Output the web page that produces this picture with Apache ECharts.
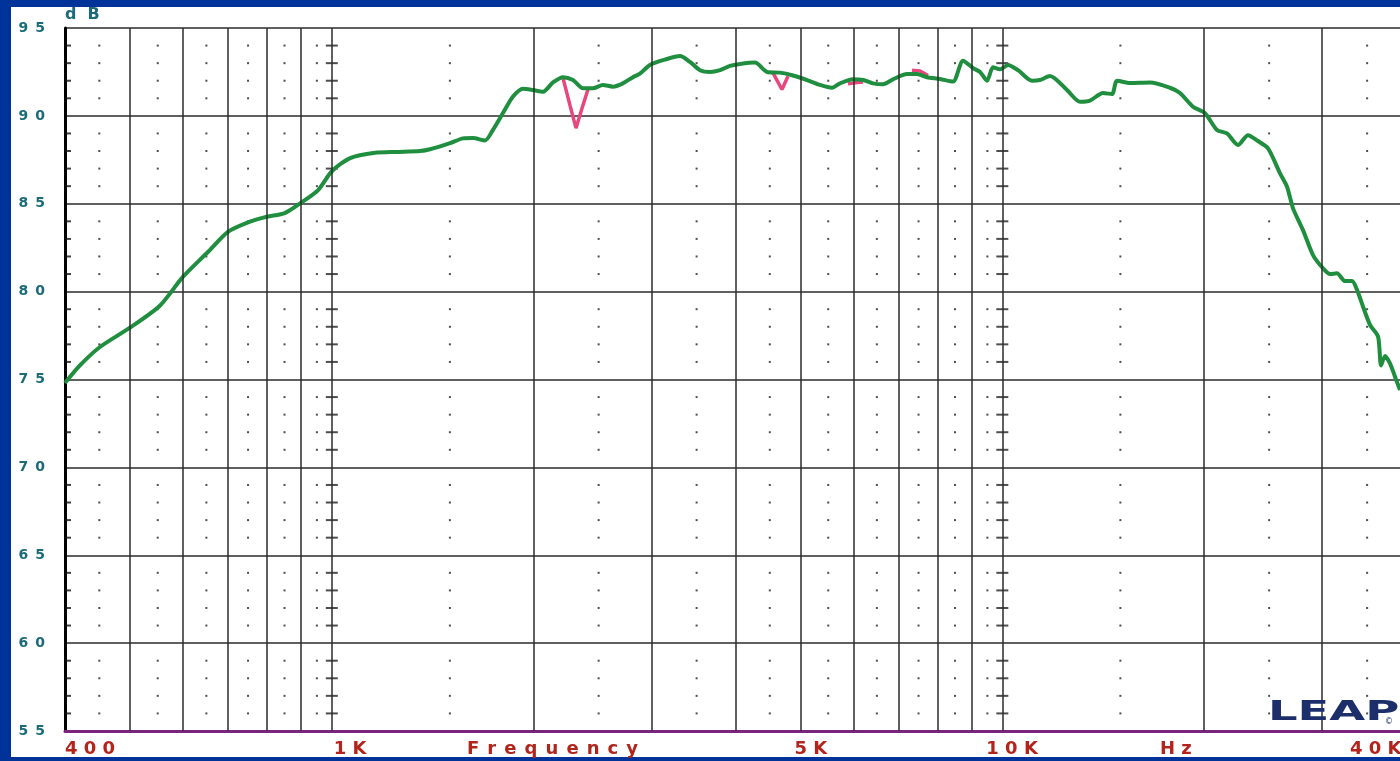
<!DOCTYPE html>
<html>
<head>
<meta charset="utf-8">
<script src="https://cdn.jsdelivr.net/npm/echarts@6/dist/echarts.min.js"></script>
<style>
  html, body { margin: 0; padding: 0; background: #003399; overflow: hidden; width: 1400px; height: 761px; }
  #paper { position: absolute; left: 11px; top: 7px; width: 1389px; height: 750px; background: #ffffff; }
  /* drawing surface runs a few pixels past the right edge so the 40K line falls just outside the view */
  #chart { position: absolute; left: 0; top: 0; width: 1410px; height: 761px; }
</style>
</head>
<body>
<div id="paper"></div>
<div id="chart"></div>
<script>
// Frequency response (Hz / dB SPL)
const freq = [400, 421, 451, 500, 554, 600, 654, 700, 755, 800, 851, 900, 954, 1000,
  1065, 1160, 1255, 1354, 1401, 1501, 1569, 1624, 1692, 1739, 1800, 1863, 1928, 1996, 2065,
  2137, 2212, 2289, 2369, 2452, 2537, 2626, 2717, 2812, 2881, 2982, 3139, 3306, 3421, 3541,
  3665, 3793, 3925, 4062, 4277, 4457, 4660, 4873, 5114, 5346, 5572, 5727, 5988, 6198, 6414,
  6638, 6870, 7209, 7461, 7722, 8074, 8442, 8738, 9042, 9263, 9488, 9685, 9921, 10197, 10553,
  11072, 11380, 11778, 12488, 13058, 13514, 14131, 14574, 14828, 15505, 16609, 17785, 18407, 19248, 20058,
  20902, 21632, 22465, 23252, 23981, 24904, 25953, 26584, 27138, 28085, 29065, 30080, 30814, 31564, 32442,
  33233, 33810, 34516, 35358, 36341, 36716, 37224, 37860, 38519, 39187];
const spl = [74.8, 75.8, 76.85, 77.95, 79.2, 80.85, 82.27, 83.4, 83.98, 84.26, 84.47, 85.06, 85.78, 86.85,
  87.6, 87.9, 87.95, 88.0, 88.1, 88.45, 88.72, 88.74, 88.6, 89.2, 90.16, 91.1, 91.55, 91.47, 91.37,
  91.9, 92.2, 92.04, 91.57, 91.57, 91.76, 91.66, 91.85, 92.2, 92.4, 92.9, 93.2, 93.4, 93.07, 92.6,
  92.5, 92.6, 92.84, 92.95, 93.03, 92.5, 92.46, 92.3, 92.04, 91.76, 91.6, 91.85, 92.08, 92.04, 91.85,
  91.8, 92.08, 92.38, 92.38, 92.2, 92.1, 91.95, 93.14, 92.72, 92.5, 92.0, 92.76, 92.65, 92.9, 92.6,
  92.0, 92.04, 92.27, 91.47, 90.8, 90.87, 91.3, 91.24, 92.0, 91.87, 91.9, 91.6, 91.3, 90.52, 90.15,
  89.2, 89.0, 88.34, 88.9, 88.6, 88.15, 86.73, 85.97, 84.74, 83.5, 82.08, 81.33, 81.0, 81.04, 80.6,
  80.6, 80.1, 79.14, 78.1, 77.44, 75.8, 76.34, 75.92, 75.16, 74.4];

// Second trace, only where it departs from the first (segments split by null)
const altFreq = [2212, 2266, 2313, 2360, 2410, null, 4549, 4692, 4790, null, 5886, 6030, 6198, null, 7334, 7540, 7748];
const altSpl  = [92.15, 90.6, 89.3, 90.4, 91.5, null, 92.45, 91.5, 92.25, null, 91.82, 91.88, 91.92, null, 92.6, 92.55, 92.3];

// Grid decoration
const majorFreqLines = [500, 600, 700, 800, 900, 1000, 2000, 3000, 4000, 5000, 6000, 7000, 8000, 9000,
  10000, 20000, 30000, 40000];
const minorFreqDots = [450, 550, 650, 750, 850, 950, 1500, 2500, 3500, 4500, 5500, 6500, 7500, 8500, 9500,
  15000, 25000, 35000];
const crossFreqs = [1000, 10000];
const xLabelValues = [400, 1000, 5000, 10000, 40000];
const xLabelTexts = ['400', '1K', '5K', '10K', '40K'];

const dbSteps = [];
for (let d = 56; d < 95; d++) if (d % 5 !== 0) dbSteps.push(d);

const spaced = (s, gap) => s.split('').join(gap);

const mainData = freq.map((f, i) => [f, spl[i]]);

const altSeries = [];
let seg = [];
altFreq.forEach((f, i) => {
  if (f === null) { if (seg.length) altSeries.push(seg); seg = []; }
  else seg.push([f, altSpl[i]]);
});
if (seg.length) altSeries.push(seg);

const dotData = [];
minorFreqDots.forEach(f => dbSteps.forEach(d => dotData.push([f, d])));
const crossData = [];
crossFreqs.forEach(f => dbSteps.forEach(d => crossData.push([f, d])));
const leftTickData = dbSteps.map(d => [400, d]);

const GRID = '#2b2b2b';
const FONT = 'DejaVu Sans';

const option = {
  backgroundColor: 'transparent',
  animation: false,
  grid: { left: 65, right: 4, top: 28, bottom: 30, containLabel: false, outerBoundsMode: 'none' },
  xAxis: {
    type: 'log', logBase: 10, min: 400, max: 40000,
    axisLine: { show: true, onZero: false, lineStyle: { color: '#7a247e', width: 3 } },
    axisTick: { show: false },
    axisLabel: { show: false },
    splitLine: { show: false },
    minorSplitLine: { show: false }
  },
  yAxis: {
    type: 'value', min: 55, max: 95, interval: 5,
    axisLine: { show: true, lineStyle: { color: '#000000', width: 3 } },
    axisTick: { show: false },
    axisLabel: {
      margin: 20, color: '#1d6b7a', fontFamily: FONT, fontWeight: 'bold', fontSize: 14,
      formatter: v => spaced(String(v), '\u2002')
    },
    splitLine: { show: true, lineStyle: { color: GRID, width: 1.5 } }
  },
  series: [
    {
      // carrier for the vertical frequency grid lines
      type: 'line', data: [], z: 1, silent: true,
      markLine: {
        silent: true, symbol: ['none', 'none'], label: { show: false },
        lineStyle: { type: 'solid', color: GRID, width: 1.5 },
        data: majorFreqLines.map(f => ({ xAxis: f }))
      }
    },
    {
      type: 'scatter', data: dotData, symbol: 'rect', symbolSize: [2, 2], z: 1, silent: true,
      itemStyle: { color: '#222222' }
    },
    {
      type: 'scatter', data: crossData, symbol: 'rect', symbolSize: [12, 2], z: 1, silent: true,
      itemStyle: { color: '#222222' }
    },
    {
      type: 'scatter', data: leftTickData, symbol: 'rect', symbolSize: [6, 2], symbolOffset: [3, 0],
      z: 1, silent: true, itemStyle: { color: '#111111' }
    },
    ...altSeries.map(s => ({
      type: 'line', data: s, showSymbol: false, z: 3, silent: true,
      lineStyle: { color: '#e8477b', width: 3.5 }
    })),
    {
      type: 'line', data: mainData, showSymbol: false, smooth: 0.25, z: 4, silent: true,
      lineStyle: { color: '#1f8f3f', width: 4 }
    }
  ]
};

const chart = echarts.init(document.getElementById('chart'), null, { renderer: 'canvas' });
chart.setOption(option);

const px = v => chart.convertToPixel({ xAxisIndex: 0 }, v);
// horizontal anchor of each frequency label relative to its grid line
const labelShift = [0, 2, -6, -16, -56];
const textStyle = (text, extra) => Object.assign({
  text, fill: '#b3241c', fontFamily: FONT, fontWeight: 'bold', fontSize: 18, verticalAlign: 'middle'
}, extra || {});

const graphics = xLabelValues.map((v, i) => ({
  type: 'text', z: 50, x: px(v) + labelShift[i], y: 749,
  style: textStyle(spaced(xLabelTexts[i], ' '), { align: 'left' })
}));
graphics.push({ type: 'text', z: 50, x: 467, y: 749, style: textStyle(spaced('Frequency', ' \u200A'), { align: 'left' }) });
graphics.push({ type: 'text', z: 50, x: 1160, y: 749, style: textStyle(spaced('Hz', ' '), { align: 'left' }) });
graphics.push({
  type: 'text', z: 50, x: 65, y: 15,
  style: { text: 'd  B', fill: '#1d6b7a', fontFamily: FONT, fontWeight: 'bold', fontSize: 16, verticalAlign: 'middle', align: 'left' }
});
graphics.push({
  type: 'text', z: 60, x: 1268, y: 713, scaleX: 1.72, scaleY: 1,
  style: { text: 'LEAP', fill: '#1c2f6b', fontFamily: FONT, fontWeight: 'bold', fontSize: 27, verticalAlign: 'middle', align: 'left' }
});
graphics.push({
  type: 'text', z: 60, x: 1385, y: 722,
  style: { text: '\u00A9', fill: '#1c2f6b', fontFamily: FONT, fontSize: 8, verticalAlign: 'middle', align: 'left' }
});
chart.setOption({ graphic: graphics });
</script>
</body>
</html>
